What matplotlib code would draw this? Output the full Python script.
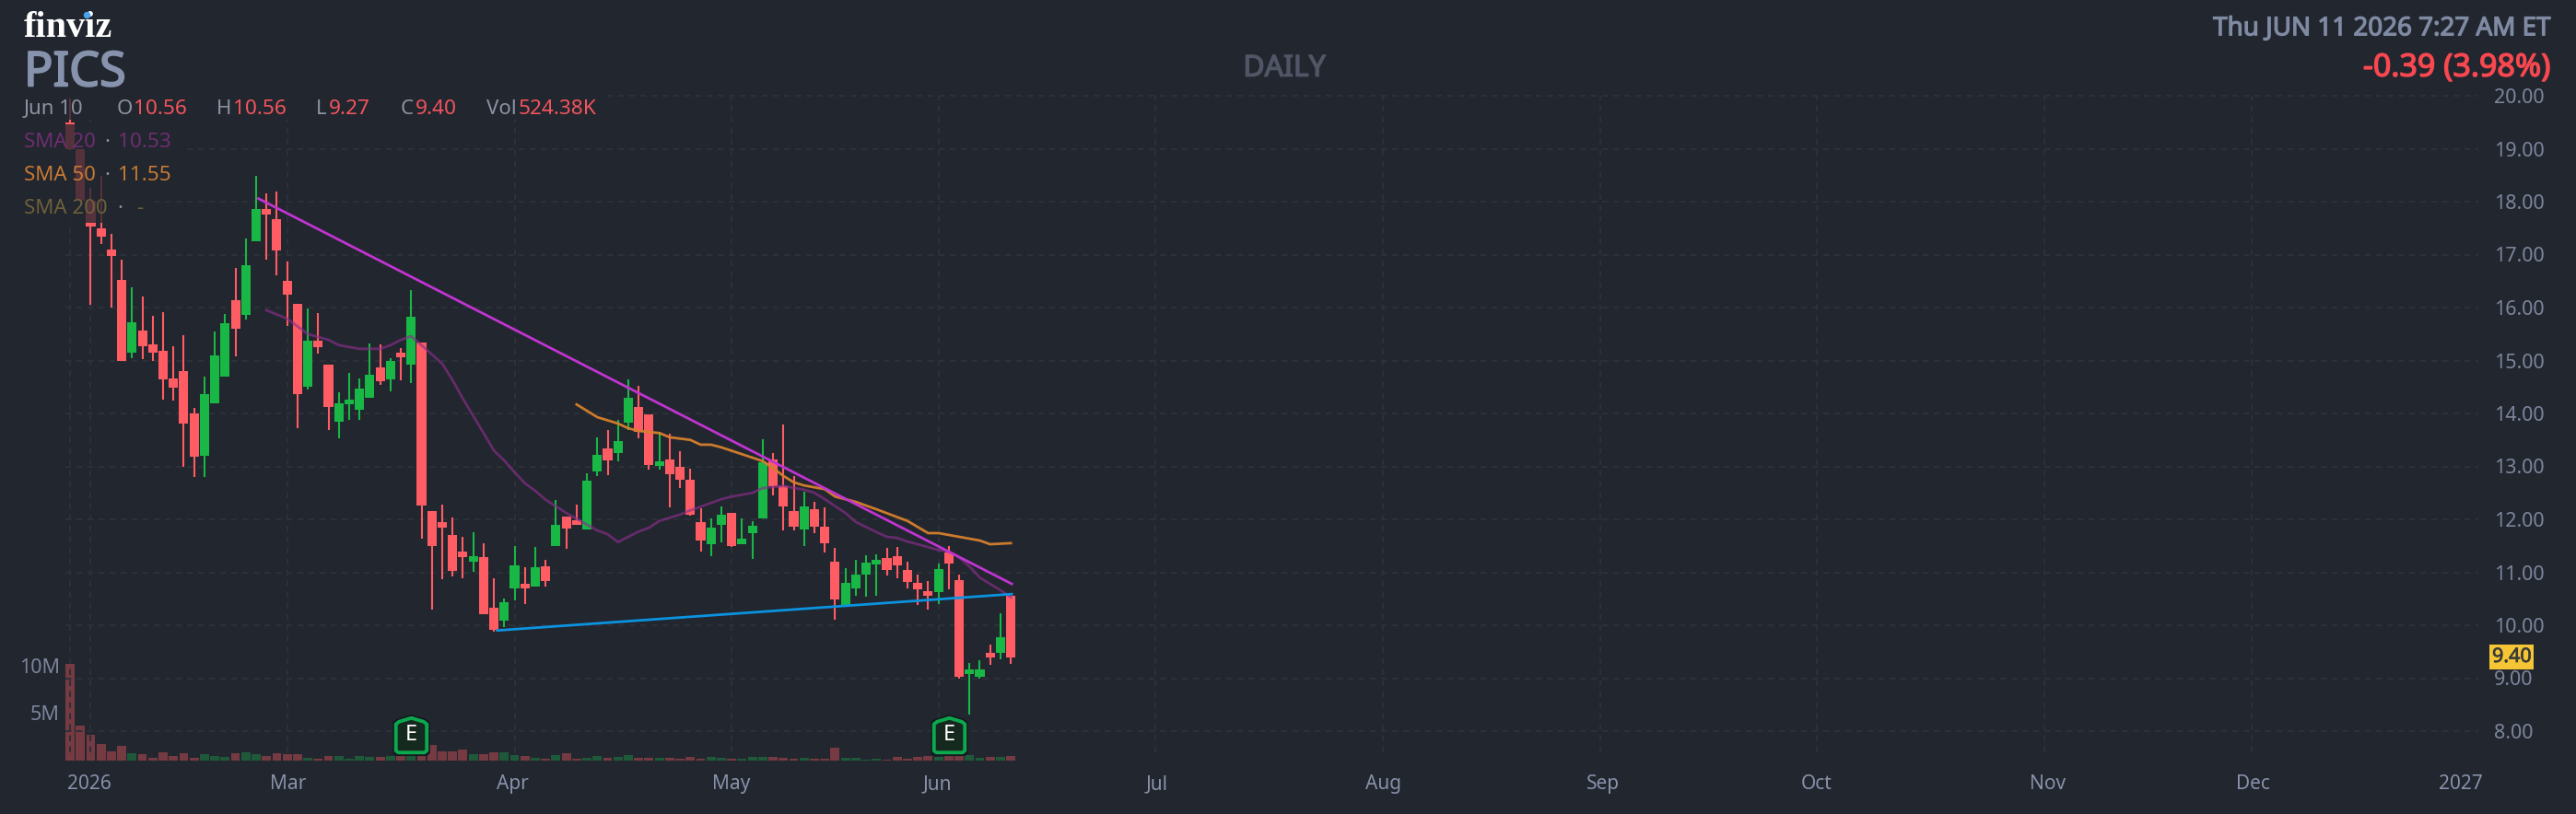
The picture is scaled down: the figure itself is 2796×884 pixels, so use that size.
import matplotlib
matplotlib.use("Agg")
import matplotlib.pyplot as plt
import matplotlib.patheffects as pe
from matplotlib.lines import Line2D
from matplotlib.patches import Rectangle
from matplotlib.path import Path

W, H = 2796, 884
BG = "#22262f"
RED = "#ff5c64"
GREEN = "#18b746"
RED_V = "#753a42"
GREEN_V = "#1e5a3a"
GRID = "#2c3039"
AXTXT = "#7c859b"
FONT = "Noto Sans"

opens = [19.49,19.00,18.02,17.50,17.10,16.52,15.15,15.57,15.30,15.18,14.66,14.80,14.00,13.20,14.19,14.70,16.14,15.86,17.25,17.86,17.67,16.50,16.07,14.50,15.37,14.92,13.84,14.17,14.07,14.30,14.87,14.64,15.15,14.92,15.34,12.16,11.95,11.70,11.39,11.20,11.29,10.33,10.09,10.70,10.78,10.73,11.11,11.50,12.05,11.98,11.81,12.90,13.34,13.25,13.83,14.12,13.98,13.01,13.13,12.99,12.75,11.95,11.53,11.90,12.12,11.53,11.74,12.02,13.13,12.63,12.16,11.81,12.19,11.86,11.20,10.37,10.70,10.96,11.15,11.27,11.30,11.04,10.80,10.64,10.63,11.37,10.85,9.08,9.03,9.48,9.48,10.56]
highs = [19.95,19.00,18.26,18.49,17.40,16.90,16.39,16.21,15.84,15.91,15.27,15.48,14.10,14.70,15.55,15.88,16.75,17.30,18.49,18.16,18.19,16.87,16.07,15.98,15.90,14.92,14.40,14.77,14.66,15.32,15.30,15.04,15.23,16.33,15.34,12.16,12.28,12.03,11.67,11.76,11.55,10.89,10.50,11.50,11.10,11.48,11.23,12.37,12.05,12.28,12.87,13.55,13.69,13.88,14.64,14.52,13.98,13.65,13.62,13.29,12.96,12.21,12.02,12.24,12.12,12.02,11.97,13.51,13.25,13.79,12.82,12.52,12.33,12.23,11.46,11.08,11.23,11.32,11.34,11.46,11.48,11.20,10.96,10.83,11.17,11.50,10.96,9.29,9.34,9.63,10.23,10.56]
lows = [18.97,18.02,16.05,17.20,16.00,15.00,15.04,15.03,14.99,14.26,14.24,12.99,12.80,12.80,14.19,14.70,15.08,15.77,17.25,16.90,16.61,15.65,13.72,14.45,15.13,13.69,13.53,13.88,13.88,14.30,14.54,14.42,14.63,14.57,11.63,10.30,10.87,10.92,10.89,11.01,10.21,9.88,9.97,10.47,10.40,10.73,10.73,11.50,11.44,11.90,11.81,12.82,12.83,13.10,13.69,13.53,12.94,12.94,12.23,12.59,12.07,11.39,11.30,11.57,11.48,11.53,11.25,12.02,12.45,11.79,11.79,11.50,11.74,11.37,10.10,10.37,10.56,10.54,10.56,10.94,10.89,10.70,10.38,10.30,10.40,10.68,9.00,8.31,9.00,9.25,9.36,9.27]
closes = [18.99,18.02,17.53,17.34,16.97,15.00,15.72,15.27,15.15,14.64,14.49,13.81,13.18,14.37,15.10,15.70,15.60,16.80,17.86,17.76,17.08,16.24,14.37,15.37,15.25,14.12,14.19,14.26,14.47,14.73,14.61,14.99,15.06,15.83,12.26,11.50,11.84,11.03,11.29,11.30,10.21,9.91,10.43,11.13,10.70,11.10,10.83,11.90,11.83,11.90,12.73,13.22,13.11,13.48,14.30,13.65,13.03,13.10,12.85,12.75,12.09,11.60,11.84,12.09,11.50,11.63,11.88,13.08,12.63,12.24,11.86,12.24,11.86,11.55,10.49,10.80,10.96,11.18,11.23,11.04,11.13,10.82,10.68,10.56,11.06,11.17,9.03,9.17,9.17,9.39,9.77,9.40]
volumes_m = [10.2,3.69,2.72,1.75,0.97,1.55,0.78,0.68,0.29,0.87,0.49,0.78,0.29,0.68,0.49,0.39,0.78,0.87,0.68,0.49,0.78,0.68,0.68,0.29,0.19,0.49,0.49,0.19,0.49,0.39,0.39,0.49,0.49,0.58,0.58,1.65,0.94,0.94,1.13,0.65,0.65,0.84,0.84,0.55,0.45,0.26,0.16,0.55,0.74,0.16,0.26,0.45,0.26,0.36,0.55,0.26,0.26,0.26,0.26,0.16,0.36,0.16,0.36,0.26,0.16,0.19,0.36,0.39,0.39,0.29,0.19,0.29,0.19,0.19,1.36,0.29,0.29,0.10,0.19,0.10,0.39,0.19,0.39,0.49,0.39,0.58,0.58,0.58,0.29,0.39,0.39,0.49]

sma20_idx = [19,21,23,25,26,28,30,31,32,33,34,36,37,38,40,41,42,43,44,45,46,48,50,51,52,53,55,56,57,59,60,63,64,66,67,69,71,72,73,75,76,78,79,80,81,82,84,85,86,87,88,89,90,91]
sma20_val = [15.95,15.79,15.50,15.39,15.29,15.22,15.22,15.29,15.39,15.46,15.29,14.94,14.63,14.28,13.63,13.30,13.11,12.89,12.68,12.54,12.37,12.12,11.90,11.79,11.72,11.57,11.77,11.84,11.97,12.09,12.17,12.38,12.43,12.50,12.59,12.63,12.56,12.50,12.38,12.12,11.95,11.76,11.67,11.65,11.58,11.53,11.42,11.39,11.28,11.11,10.90,10.78,10.66,10.53]
sma50_idx = [49,50,51,53,54,55,57,58,60,61,62,63,65,67,68,69,70,71,73,74,76,78,81,83,84,88,89,91]
sma50_val = [14.17,14.05,13.93,13.81,13.72,13.67,13.63,13.55,13.50,13.41,13.41,13.36,13.23,13.10,12.97,12.82,12.70,12.64,12.57,12.43,12.33,12.19,11.97,11.74,11.74,11.60,11.53,11.55]
trend_down_idx = [18.1, 91.2]
trend_down_val = [18.07, 10.77]
trend_up_idx = [41.2, 91.2]
trend_up_val = [9.90, 10.59]
earnings_idx = [33, 85]
earnings_y = [7.93, 7.93]

price_ticks = list(range(8, 21))
volume_ticks = [5, 10]
volume_tick_labels = ["5M", "10M"]
month_idx = [2, 21, 43, 64, 84, 105, 127, 148, 169, 191, 211, 233]
month_labels = ["2026", "Mar", "Apr", "May", "Jun", "Jul", "Aug", "Sep", "Oct", "Nov", "Dec", "2027"]
month_shift_px = [-2, 1, -2, 0, -1, 1, 0, 3, -1, 3, 2, -20]


def fx(x):
    return x / W


def fy(y):
    return 1 - y / H


fig = plt.figure(figsize=(W / 100, H / 100), dpi=100, facecolor=BG)
rect = [fx(71), fy(826), fx(2690) - fx(71), fy(100) - fy(826)]
ax_v = fig.add_axes(rect, zorder=1)
ax = fig.add_axes(rect, zorder=2)
xlim = (-5 / 11.2, 2614 / 11.2 - 5 / 11.2)
ylim = (20 - 722 / 57.5, 20 + 4 / 57.5)

for a in (ax, ax_v):
    a.set_xlim(*xlim)
    a.patch.set_visible(False)
    for s in a.spines.values():
        s.set_visible(False)
ax.set_ylim(*ylim)
ax_v.set_ylim(0, 726 / 10.3)

# volume
x_all = list(range(len(opens)))
vcolors = [GREEN_V if c >= o else RED_V for o, c in zip(opens, closes)]
ax_v.bar(x_all, volumes_m, width=0.88, color=vcolors, linewidth=0)
ax_v.set_yticks(volume_ticks)
ax_v.set_yticklabels(volume_tick_labels, fontsize=15.5, color=AXTXT, family=FONT)
ax_v.tick_params(axis="y", length=0, pad=4.3, left=True)
ax_v.set_xticks([])

# grid
dash = (0, (3.2, 2.8))
for p in price_ticks:
    ax.axhline(p, color=GRID, lw=1.44, ls=dash, zorder=1)
grid_bottom = 20 - 713 / 57.5
for i in [0] + month_idx:
    ax.plot([i, i], [grid_bottom, 20], color=GRID, lw=1.44, ls=dash, zorder=1)

# candles
colors = [GREEN if c >= o else RED for o, c in zip(opens, closes)]
ax.vlines(x_all, lows, highs, colors=colors, linewidth=1.5, zorder=3)
body_lo = [min(o, c) for o, c in zip(opens, closes)]
body_h = [abs(o - c) for o, c in zip(opens, closes)]
ax.bar(x_all, body_h, bottom=body_lo, width=0.9, color=colors, linewidth=0, zorder=4)

# overlays
ax.plot(sma20_idx, sma20_val, color="#8a2f8a", alpha=0.65, lw=2.0, zorder=5)
ax.plot(sma50_idx, sma50_val, color="#d67f2c", alpha=0.95, lw=2.0, zorder=5)
ax.plot(trend_down_idx, trend_down_val, color="#c034d0", lw=2.0, zorder=6, solid_capstyle="butt")
ax.plot(trend_up_idx, trend_up_val, color="#0b93e0", lw=2.0, zorder=6, solid_capstyle="butt")

# earnings markers
house = Path(
    [(-1, -1.0), (-1, 0.72), (-0.8, 0.88), (0, 1.12), (0.8, 0.88), (1, 0.72), (1, -1.0), (0.85, -1.12), (-0.85, -1.12), (-1, -1.0)],
    closed=True,
)
ax.plot(earnings_idx, earnings_y, ls="none", marker=house, ms=31, mfc="#15191f", mec="#15191f", mew=1.5, zorder=7)
ax.plot(earnings_idx, earnings_y, ls="none", marker=house, ms=27, mfc="#15291f", mec="#0ba84e", mew=2.8, zorder=8)
for i, y in zip(earnings_idx, earnings_y):
    ax.text(i, y, "E", color="#ffffff", fontsize=17, family=FONT, ha="center", va="center", zorder=9)

# price axis
ax.yaxis.tick_right()
ax.set_yticks(price_ticks)
ax.set_yticklabels([f"{p:.2f}" for p in price_ticks], fontsize=15.5, color=AXTXT, family=FONT)
ax.tick_params(axis="y", length=0, pad=12.2)
ax.set_xticks([])
for lab, i, dx in zip(month_labels, month_idx, month_shift_px):
    ax.annotate(lab, (i, 0), xycoords=("data", "axes fraction"), xytext=(dx, -31),
                textcoords="offset pixels", ha="center", va="baseline",
                fontsize=15, color="#8891a8", family=FONT)

ax.annotate("9.40", (1, closes[-1]), xycoords=("axes fraction", "data"), xytext=(15, 0),
            textcoords="offset pixels", ha="left", va="center", fontsize=15.5, color="#3a3a38",
            family=FONT, zorder=12,
            path_effects=[pe.withStroke(linewidth=0.5, foreground="#3a3a38")],
            bbox=dict(boxstyle="square,pad=0.13", fc="#f4c636", ec="none"))

# translucent legend backdrop
for x1, y0, y1 in [(655, 100, 130), (200, 135, 170), (200, 170, 207), (168, 207, 242)]:
    fig.add_artist(Rectangle((fx(0), fy(y1)), fx(x1), fy(y0) - fy(y1), transform=fig.transFigure,
                             fc=BG, ec="none", alpha=0.77, zorder=5))


def label(x, y, s, color, size=16, ha="left", family=FONT, weight="normal", stroke=0.0):
    t = fig.text(fx(x), fy(y), s, color=color, fontsize=size, weight=weight, ha=ha, va="baseline",
                 family=family, zorder=10)
    if stroke:
        t.set_path_effects([pe.withStroke(linewidth=stroke, foreground=color)])


GR = "#8d92a0"
LR = "#f2545c"
label(26, 39.5, "finviz", "#ffffff", 29, family="Liberation Serif", weight="bold")
fig.add_artist(Line2D([fx(94)], [fy(16)], marker="o", ms=5.4, mfc="#4aa3f0", mec="none",
                      transform=fig.transFigure, zorder=11))
label(26, 93.3, "PICS", "#8793ad", 37.5, stroke=1.4)
label(26, 124, "Jun 10", GR)
label(127, 124, "O", GR)
label(145, 124, "10.56", LR, 16.3)
label(235, 124, "H", GR)
label(253, 124, "10.56", LR, 16.3)
label(343, 124, "L", GR)
label(357, 124, "9.27", LR, 16.3)
label(435, 124, "C", GR)
label(451, 124, "9.40", LR, 16.3)
label(528, 124, "Vol", GR)
label(563, 124, "524.38K", LR, 16.3)
label(26, 160, "SMA 20", "#6d2e70")
label(113, 160, "·", GR)
label(128, 160, "10.53", "#6d2e70", 16.3)
label(26, 196, "SMA 50", "#c67a33")
label(113, 196, "·", GR)
label(128, 196, "11.55", "#c67a33", 16.3)
label(26, 232, "SMA 200", "#6d603a")
label(127, 232, "·", GR)
label(148, 232, "-", "#6d603a")
label(1394, 82.7, "DAILY", "#505665", 23, ha="center", stroke=1.0)
label(2769, 38.3, "Thu JUN 11 2026 7:27 AM ET", "#7f8aa3", 20, ha="right", stroke=0.9)
label(2769, 82.7, "-0.39 (3.98%)", "#f9484f", 24.5, ha="right", stroke=1.0)

fig.savefig("out.png", dpi=100, facecolor=BG)
